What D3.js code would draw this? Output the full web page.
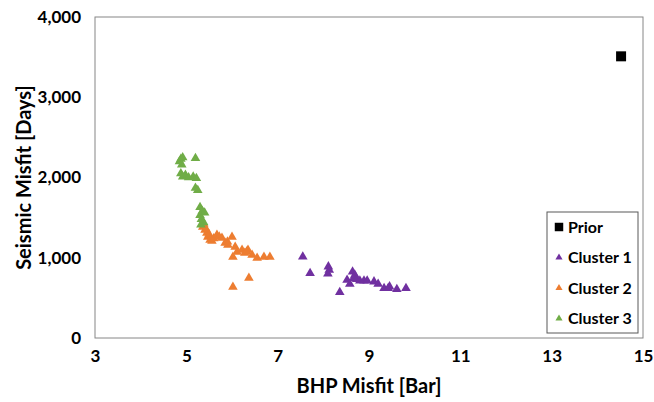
<!DOCTYPE html>
<html>
<head>
<meta charset="utf-8">
<script src="https://cdn.jsdelivr.net/npm/d3@7"></script>
<style>
  body { margin: 0; background: #fff; }
  text { font-family: Lato, "Liberation Sans", sans-serif; font-weight: bold; fill: #000; }
</style>
</head>
<body>
<div id="chart"></div>
<script>
const xTicks = [3, 5, 7, 9, 11, 13, 15];
const yTicks = [0, 1000, 2000, 3000, 4000];

const prior = [[14.52, 3510]];

const cluster1 = [
  [7.55, 1013], [7.71, 806], [8.11, 889], [8.13, 847], [8.1, 800],
  [8.36, 570], [8.52, 723], [8.58, 673], [8.64, 826], [8.69, 785],
  [8.66, 745], [8.73, 731], [8.8, 714], [8.89, 714], [8.96, 714],
  [9.11, 702], [9.2, 673], [9.33, 619], [9.42, 619], [9.45, 640],
  [9.61, 607], [9.81, 619]
];

const cluster2 = [
  [5.36, 1383], [5.38, 1420], [5.41, 1346], [5.45, 1308], [5.43, 1360],
  [5.47, 1259], [5.5, 1290], [5.52, 1221], [5.56, 1209], [5.6, 1240],
  [5.67, 1283], [5.72, 1260], [5.78, 1246], [5.85, 1184], [5.9, 1200],
  [6.0, 1259], [5.91, 1159], [6.07, 1134], [6.11, 1072], [6.22, 1097],
  [6.28, 1059], [6.35, 1097], [6.32, 1075], [6.44, 1034], [6.55, 997],
  [6.7, 1009], [6.83, 1009], [6.02, 1009], [6.37, 748], [6.02, 636]
];

const cluster3 = [
  [4.85, 2200], [4.88, 2230], [4.92, 2250], [4.9, 2160], [5.2, 2240],
  [4.88, 2050], [4.92, 2010], [4.98, 2030], [5.05, 2000], [5.15, 2010],
  [5.22, 1990], [5.2, 1870], [5.25, 1840], [5.3, 1630], [5.35, 1580],
  [5.3, 1530], [5.4, 1560], [5.33, 1480], [5.38, 1440], [5.32, 1410]
];

const series = [
  { name: "Prior", data: prior, color: "#000000", shape: d3.symbolSquare, size: 100, legendSize: 72 },
  { name: "Cluster 1", data: cluster1, color: "#7030A0", shape: d3.symbolTriangle, size: 40, legendSize: 22 },
  { name: "Cluster 2", data: cluster2, color: "#ED7D31", shape: d3.symbolTriangle, size: 40, legendSize: 22 },
  { name: "Cluster 3", data: cluster3, color: "#70AD47", shape: d3.symbolTriangle, size: 40, legendSize: 22 }
];

const width = 654;
const height = 402;
const margin = { top: 17, left: 95, bottom: 64, right: 11 };

const svg = d3.select("#chart")
  .append("svg")
  .attr("width", width)
  .attr("height", height);

const x = d3.scaleLinear().domain([3, 15]).range([margin.left, width - margin.right]);
const y = d3.scaleLinear().domain([0, 4000]).range([height - margin.bottom, margin.top]);

// plot border
svg.append("rect")
  .attr("x", x(3))
  .attr("y", y(4000))
  .attr("width", x(15) - x(3))
  .attr("height", y(0) - y(4000))
  .attr("fill", "none")
  .attr("stroke", "#868686")
  .attr("stroke-width", 1);

const xAxis = svg.append("g")
  .attr("transform", `translate(0,${y(0)})`)
  .call(d3.axisBottom(x).tickValues(xTicks).tickSize(0).tickPadding(12).tickFormat(d3.format("d")));
xAxis.select(".domain").remove();
xAxis.selectAll("text").style("font-size", "17px");

const yAxis = svg.append("g")
  .attr("transform", `translate(${x(3)},0)`)
  .call(d3.axisLeft(y).tickValues(yTicks).tickSize(0).tickPadding(14).tickFormat(d3.format(",")));
yAxis.select(".domain").remove();
yAxis.selectAll("text").style("font-size", "17px");

// points
series.forEach((s) => {
  svg.append("g")
    .selectAll("path")
    .data(s.data)
    .enter()
    .append("path")
    .attr("d", d3.symbol().type(s.shape).size(s.size))
    .attr("transform", (d) => `translate(${x(d[0])},${y(d[1])})`)
    .attr("fill", s.color);
});

// axis titles
svg.append("text")
  .attr("x", (x(3) + x(15)) / 2)
  .attr("y", 393)
  .attr("text-anchor", "middle")
  .style("font-size", "20px")
  .text("BHP Misfit [Bar]");

svg.append("text")
  .attr("transform", `translate(31,${(y(0) + y(4000)) / 2}) rotate(-90)`)
  .attr("text-anchor", "middle")
  .style("font-size", "20px")
  .text("Seismic Misfit [Days]");

// legend
const legend = svg.append("g").attr("transform", "translate(547,212)");
legend.append("rect")
  .attr("width", 91)
  .attr("height", 121)
  .attr("fill", "#fff")
  .attr("stroke", "#595959")
  .attr("stroke-width", 1);

const item = legend.selectAll("g.item")
  .data(series)
  .enter()
  .append("g")
  .attr("class", "item")
  .attr("transform", (d, i) => `translate(0,${15 + i * 30.5})`);

item.append("path")
  .attr("d", (d) => d3.symbol().type(d.shape).size(d.legendSize)())
  .attr("transform", "translate(12,0)")
  .attr("fill", (d) => d.color);

item.append("text")
  .attr("x", 21)
  .attr("dy", "0.35em")
  .style("font-size", "16px")
  .text((d) => d.name);
</script>
</body>
</html>
